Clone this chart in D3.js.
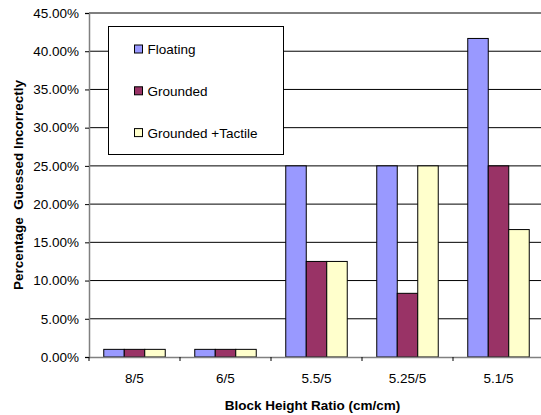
<!DOCTYPE html>
<html>
<head>
<meta charset="utf-8">
<script src="https://cdn.jsdelivr.net/npm/d3@7"></script>
<style>
  html, body { margin: 0; padding: 0; background: #fff; }
  svg { display: block; }
  text { font-family: "Liberation Sans", Arial, sans-serif; }
</style>
</head>
<body>
<svg id="chart" width="541" height="415"></svg>
<script>
// Block height ratios tested
const categories = ["8/5", "6/5", "5.5/5", "5.25/5", "5.1/5"];
// Percentage guessed incorrectly per condition
const floating = [1, 1, 25, 25, 41.67];
const grounded = [1, 1, 12.5, 8.33, 25];
const groundedTactile = [1, 1, 12.5, 25, 16.67];
const seriesNames = ["Floating", "Grounded", "Grounded +Tactile"];
const seriesColors = ["#9999FF", "#993366", "#FFFFCC"];
const yTicks = [0, 5, 10, 15, 20, 25, 30, 35, 40, 45];

const series = [floating, grounded, groundedTactile];

const svg = d3.select("#chart");
const margin = { left: 89, top: 13, right: -3, bottom: 58 };
const W = 541, H = 415;
const x0 = margin.left, x1 = W - margin.right;
const y0 = H - margin.bottom, y1 = margin.top;

const x = d3.scaleBand().domain(categories).range([x0, x1]).paddingInner(0).paddingOuter(0);
// three bars per category, with a gap on each side of the group
const xs = d3.scaleBand().domain(d3.range(series.length))
  .range([0, x.bandwidth()]).paddingInner(0).paddingOuter(0.72);
const y = d3.scaleLinear().domain([0, 45]).range([y0, y1]);

// gridlines
svg.append("g").selectAll("line").data(yTicks.filter(d => d > 0)).join("line")
  .attr("x1", x0).attr("x2", W)
  .attr("y1", d => y(d)).attr("y2", d => y(d))
  .attr("stroke", "#000").attr("stroke-width", 1);

// bars
const groups = svg.append("g").selectAll("g").data(categories).join("g")
  .attr("transform", d => `translate(${x(d)},0)`);
groups.selectAll("rect").data((c, i) => series.map((s, k) => ({ k, v: s[i] }))).join("rect")
  .attr("x", d => xs(d.k))
  .attr("width", xs.bandwidth())
  .attr("y", d => y(d.v))
  .attr("height", d => y(0) - y(d.v))
  .attr("fill", d => seriesColors[d.k])
  .attr("stroke", "#000").attr("stroke-width", 1);

// y axis
const yAxis = d3.axisLeft(y).tickValues(yTicks).tickSize(4).tickPadding(6)
  .tickFormat(d => d.toFixed(2) + "%");
const gy = svg.append("g").attr("transform", `translate(${x0},0)`).call(yAxis);
gy.select(".domain").attr("stroke", "#808080").attr("stroke-width", 1.5);
gy.selectAll(".tick line").attr("stroke", "#000");
gy.selectAll(".tick text").attr("font-size", 13.5).attr("fill", "#000")
  .style("font-family", "Liberation Sans, Arial, sans-serif");

// x axis
const xAxis = d3.axisBottom(x).tickSize(0).tickPadding(16);
const gx = svg.append("g").attr("transform", `translate(0,${y0})`).call(xAxis);
gx.select(".domain").attr("stroke", "#808080").attr("stroke-width", 1.5);
gx.selectAll(".tick text").attr("font-size", 13.5).attr("fill", "#000")
  .style("font-family", "Liberation Sans, Arial, sans-serif");
// category separators
svg.append("g").selectAll("line").data(categories).join("line")
  .attr("x1", d => x(d)).attr("x2", d => x(d))
  .attr("y1", y0).attr("y2", y0 + 4)
  .attr("stroke", "#000");

// axis titles
svg.append("text")
  .attr("x", (x0 + x1) / 2 - 4).attr("y", 410)
  .attr("text-anchor", "middle").attr("font-weight", "bold").attr("font-size", 13.5)
  .text("Block Height Ratio (cm/cm)");
svg.append("text")
  .attr("transform", `translate(23,${(y0 + y1) / 2}) rotate(-90)`)
  .attr("text-anchor", "middle").attr("font-weight", "bold").attr("font-size", 13.5)
  .style("white-space", "pre")
  .text("Percentage  Guessed Incorrectly");

// legend
const lg = svg.append("g").attr("transform", "translate(108.5,26.5)");
lg.append("rect").attr("width", 175).attr("height", 128)
  .attr("fill", "#fff").attr("stroke", "#000");
const items = lg.selectAll("g.item").data(seriesNames).join("g")
  .attr("transform", (d, i) => `translate(26,${22.5 + i * 41.8})`);
items.append("rect").attr("x", 0).attr("y", -4).attr("width", 8).attr("height", 8)
  .attr("fill", (d, i) => seriesColors[i]).attr("stroke", "#000");
items.append("text").attr("x", 13).attr("y", 5).attr("font-size", 13.5).text(d => d);
</script>
</body>
</html>
